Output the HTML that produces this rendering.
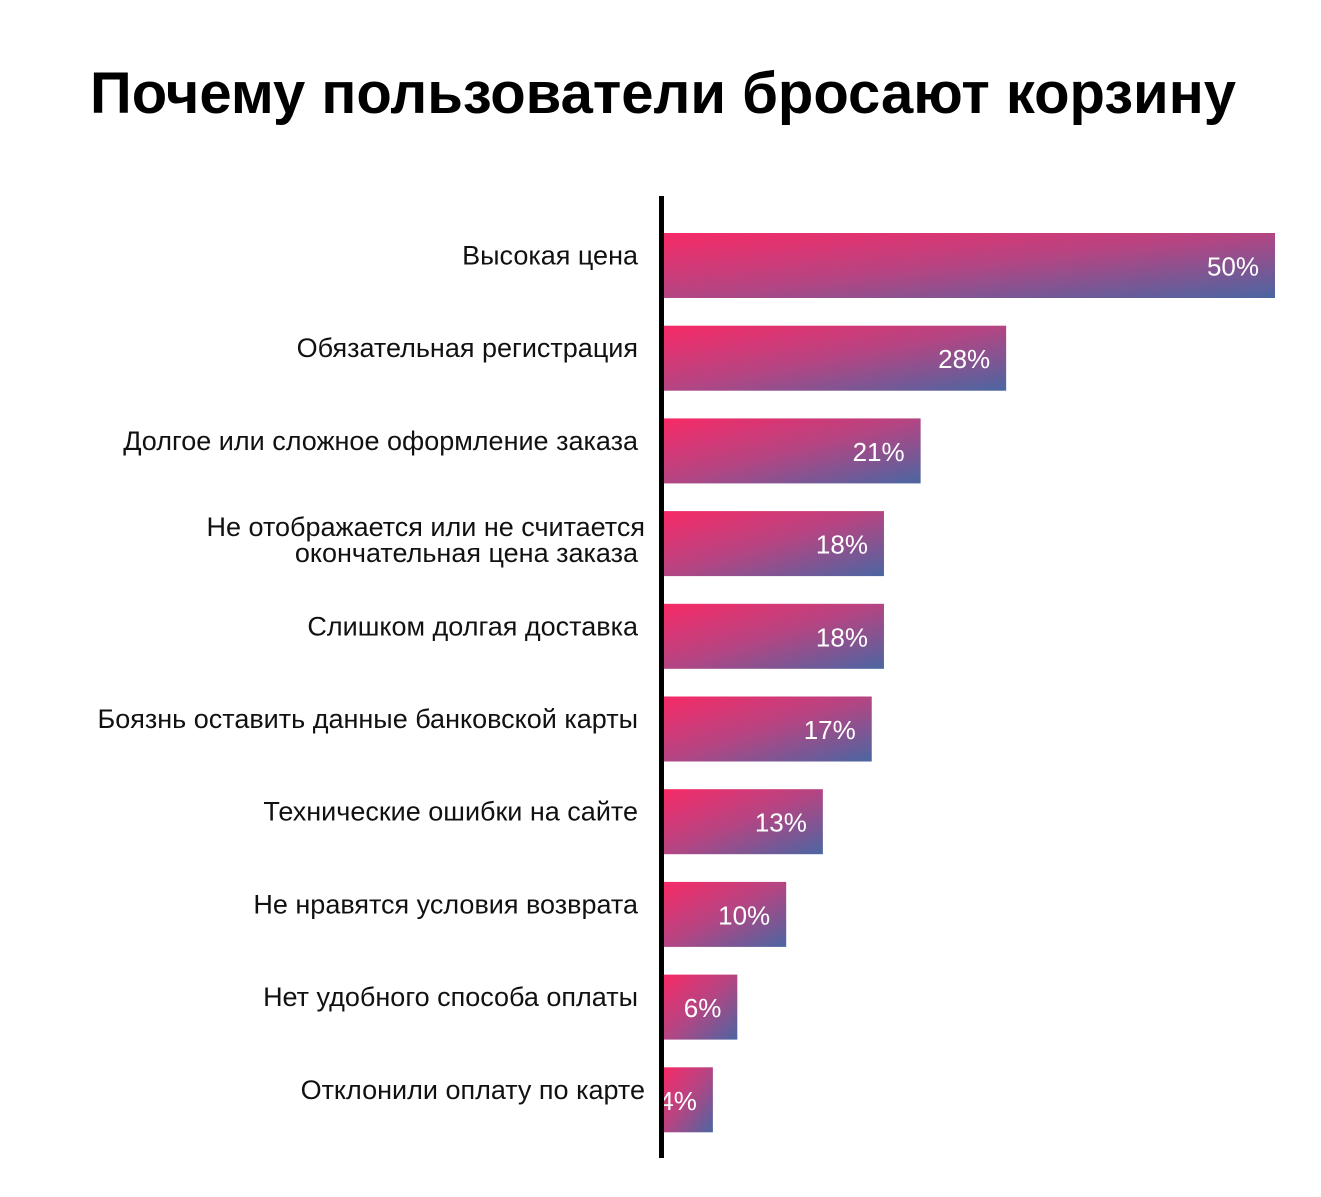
<!DOCTYPE html>
<html><head><meta charset="utf-8"><style>
html,body{margin:0;padding:0;background:#fff;}
svg{display:block;font-family:"Liberation Sans","DejaVu Sans",sans-serif;}
</style></head><body>
<svg id="chart" width="1321" height="1197" viewBox="0 0 1321 1197" xmlns="http://www.w3.org/2000/svg">
<defs>
<linearGradient id="g" x1="0" y1="0" x2="1" y2="1">
<stop offset="0" stop-color="#f72a66"/>
<stop offset="0.5" stop-color="#b44583"/>
<stop offset="1" stop-color="#4a66a2"/>
</linearGradient>
</defs>
<text x="663" y="113" text-anchor="middle" font-size="58" font-weight="bold" fill="#000">Почему пользователи бросают корзину</text>
<g id="bars"></g>
<rect x="659" y="196" width="5" height="962" fill="#000"/>
</svg>
<script>
const categories = ["Высокая цена","Обязательная регистрация","Долгое или сложное оформление заказа","Не отображается или не считается|окончательная цена заказа","Слишком долгая доставка","Боязнь оставить данные банковской карты","Технические ошибки на сайте","Не нравятся условия возврата","Нет удобного способа оплаты","Отклонили оплату по карте"];
const values = [50,28,21,18,18,17,13,10,6,4];
const valueLabels = ["50%","28%","21%","18%","18%","17%","13%","10%","6%","4%"];
const NS="http://www.w3.org/2000/svg";
const x0=664, xScale=(v)=>x0+v*(1275-x0)/50;
const yTop=(i)=>233+i*92.7, barH=65;
const g=document.getElementById('bars');
categories.forEach((c,i)=>{
  const y=yTop(i);
  const r=document.createElementNS(NS,'rect');
  
  
  r.setAttribute('x',x0);r.setAttribute('y',y);
  r.setAttribute('width',xScale(values[i])-x0);r.setAttribute('height',barH);
  r.setAttribute('fill','url(#g)');
  g.appendChild(r);
  const t=document.createElementNS(NS,'text');
  
  
  t.setAttribute('x',xScale(values[i])-16);t.setAttribute('y',y+barH/2+10);
  t.setAttribute('text-anchor','end');t.setAttribute('font-size','26');t.setAttribute('fill','#fff');
  t.textContent=valueLabels[i];
  g.appendChild(t);
  const lines=c.split('|');
  lines.forEach((ln,k)=>{
    const l=document.createElementNS(NS,'text');
    
    
    const ax=(lines.length>1&&k===0)||i===9?645:638;
    l.setAttribute('x',ax);
    const cy=lines.length>1?y+25+k*26:y+barH/2-1;
    l.setAttribute('y',cy);
    l.setAttribute('text-anchor','end');l.setAttribute('font-size','27');l.setAttribute('fill','#111');
    l.textContent=ln;
    g.appendChild(l);
  });
});
</script>
</body></html>
